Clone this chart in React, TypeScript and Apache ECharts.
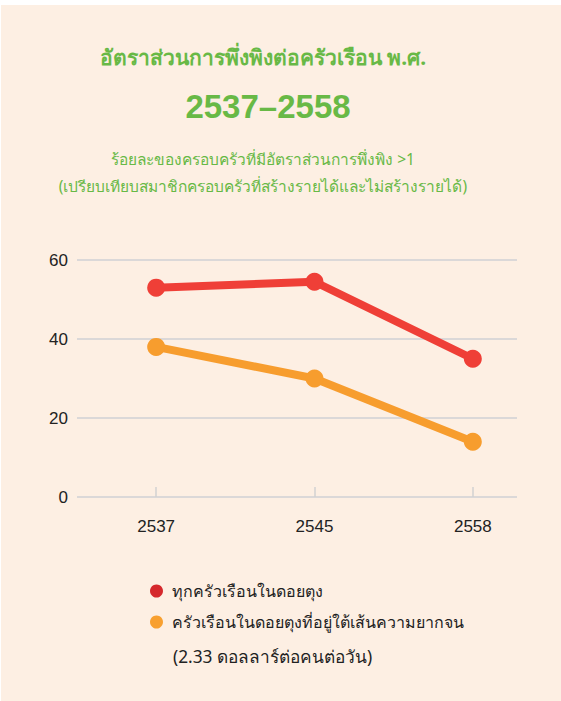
import React, { useEffect, useRef } from "react";
import * as echarts from "echarts";

const categories = ["2537", "2545", "2558"];
const allHouseholds = [53, 54.5, 35];
const poorHouseholds = [38, 30, 14];
const yTicks = [0, 20, 40, 60];

const titleLine1 = "อัตราส่วนการพึ่งพิงต่อครัวเรือน พ.ศ.";
const titleLine2 = "2537–2558";
const subLine1 = "ร้อยละของครอบครัวที่มีอัตราส่วนการพึ่งพิง >1";
const subLine2 = "(เปรียบเทียบสมาชิกครอบครัวที่สร้างรายได้และไม่สร้างรายได้)";
const seriesName1 = "ทุกครัวเรือนในดอยตุง";
const seriesName2 = "ครัวเรือนในดอยตุงที่อยู่ใต้เส้นความยากจน";
const seriesNote2 = "(2.33 ดอลลาร์ต่อคนต่อวัน)";

const FONT_NUM = "'Liberation Sans', 'Noto Sans', sans-serif";
const FONT_TH = "'Noto Sans', 'DejaVu Sans', sans-serif";
const GREEN = "#68b946";
const RED = "#ef3f37";
const ORANGE = "#f79d2e";

export default function App() {
  const ref = useRef<HTMLDivElement>(null);
  useEffect(() => {
    document.body.style.margin = "0";
    const chart = echarts.init(ref.current!, null, { renderer: "svg" });
    const top = 260;
    const bottom = 701 - 497;
    chart.setOption({
      animation: false,
      backgroundColor: "#fdefe3",
      title: [
        {
          text: titleLine1,
          left: 258,
          top: 41,
          textAlign: "center",
          textStyle: { color: GREEN, fontSize: 21, fontWeight: "bold", fontFamily: FONT_TH },
        },
        {
          text: titleLine2,
          left: 263,
          top: 85,
          textAlign: "center",
          textStyle: { color: GREEN, fontSize: 33, fontWeight: "bold", fontFamily: FONT_NUM },
        },
        {
          text: subLine1 + "\n" + subLine2,
          left: 258,
          top: 140,
          textAlign: "center",
          textStyle: { color: GREEN, fontSize: 15.5, fontWeight: "normal", lineHeight: 27, fontFamily: FONT_TH },
        },
      ],
      grid: [
        { left: 77, right: 9, top, bottom },
        { left: 77, width: 440, top, bottom },
      ],
      xAxis: [
        {
          type: "category",
          gridIndex: 0,
          data: categories,
          boundaryGap: true,
          axisLine: { show: false },
          axisTick: { show: true, alignWithLabel: true, inside: true, length: 10, lineStyle: { color: "#d2d2d2", width: 1.5 } },
          axisLabel: { color: "#222", fontSize: 17, margin: 21, fontFamily: FONT_NUM },
          splitLine: { show: false },
        },
        {
          type: "category",
          gridIndex: 1,
          data: categories,
          show: false,
        },
      ],
      yAxis: [
        {
          type: "value",
          gridIndex: 0,
          min: 0,
          max: 60,
          interval: 20,
          show: false,
          splitLine: { show: false },
        },
        {
          type: "value",
          gridIndex: 1,
          min: 0,
          max: 60,
          interval: 20,
          axisLine: { show: false },
          axisTick: { show: false },
          axisLabel: {
            color: "#222",
            fontSize: 17,
            margin: 9,
            fontFamily: FONT_NUM,
            formatter: (v: number) => (yTicks.includes(v) ? String(v) : ""),
          },
          splitLine: { show: true, lineStyle: { color: "#cfd0d4", width: 1.5 } },
        },
      ],
      legend: {
        orient: "vertical",
        left: 145,
        top: 576,
        icon: "circle",
        itemWidth: 13,
        itemHeight: 13,
        itemGap: 11,
        textStyle: { color: "#222", fontSize: 16, lineHeight: 20, padding: [0, 0, 0, 4], fontFamily: FONT_TH },
        data: [
          { name: seriesName1, itemStyle: { color: "#d5282c" } },
          { name: seriesName2, itemStyle: { color: "#f8a030" } },
        ],
      },
      graphic: [
        { type: "rect", shape: { x: 0, y: 0, width: 561, height: 5 }, style: { fill: "#ffffff" } },
        { type: "rect", shape: { x: 0, y: 0, width: 1, height: 701 }, style: { fill: "#ffffff" } },
        {
          type: "text",
          x: 173,
          y: 656,
          style: { text: seriesNote2, fill: "#222", fontSize: 17.3, fontFamily: FONT_TH, verticalAlign: "middle" },
        },
      ],
      series: [
        {
          name: seriesName1,
          type: "line",
          xAxisIndex: 0,
          yAxisIndex: 0,
          data: allHouseholds,
          symbol: "circle",
          symbolSize: 18,
          lineStyle: { color: RED, width: 8 },
          itemStyle: { color: RED },
          z: 3,
        },
        {
          name: seriesName2,
          type: "line",
          xAxisIndex: 0,
          yAxisIndex: 0,
          data: poorHouseholds,
          symbol: "circle",
          symbolSize: 18,
          lineStyle: { color: ORANGE, width: 8 },
          itemStyle: { color: ORANGE },
          z: 2,
        },
      ],
    });
    return () => chart.dispose();
  }, []);
  return <div ref={ref} style={{ width: 561, height: 701 }} />;
}
